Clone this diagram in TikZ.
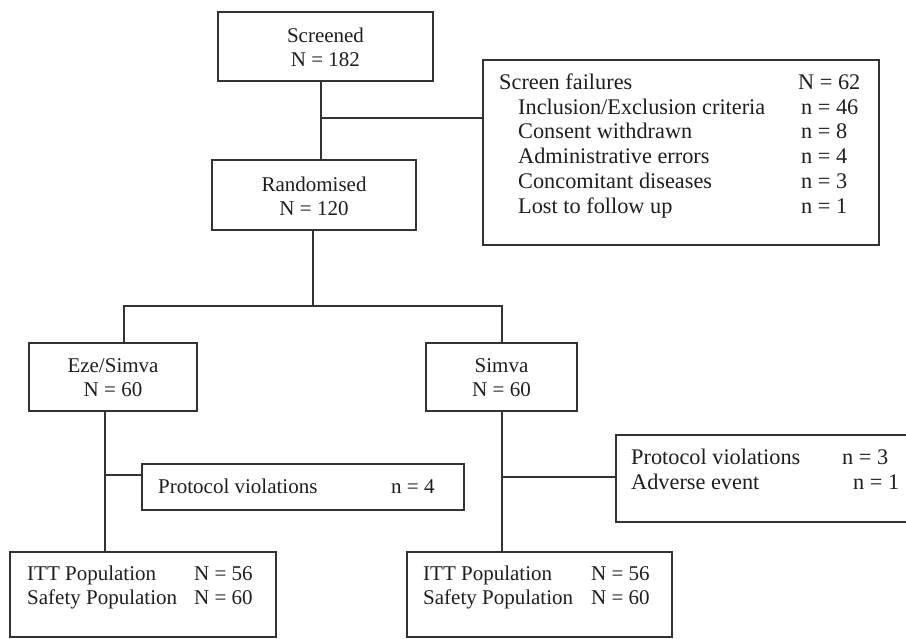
\documentclass[tikz,border=0pt]{standalone}
\usepackage{fontspec}
\setmainfont{Liberation Serif}
\definecolor{ln}{HTML}{333333}
\definecolor{tx}{HTML}{1E1E1E}
\begin{document}
\begin{tikzpicture}[x=1pt,y=-1pt,
  box/.style={draw=ln, line width=1.2pt, rectangle, inner sep=0pt},
  lbl/.style={inner sep=0pt, anchor=base west, text=tx, font=\fontsize{21}{25}\selectfont},
  ctr/.style={inner sep=0pt, align=center, text=tx, font=\fontsize{21}{24}\selectfont},
  wide/.style={inner sep=0pt, anchor=base west, text=tx, font=\fontsize{22.3}{25}\selectfont},
  conn/.style={draw=ln, line width=1.2pt}]
\useasboundingbox (0,0) rectangle (906,638);
\fill[white] (0,0) rectangle (906,638);

% boxes
\node[box, minimum width=215, minimum height=69] (scr) at (325.5,46.5) {};
\node[ctr] (scrT) at (325.5,47.5) {Screened\\N = 182};
\node[box, minimum width=204, minimum height=70] (rand) at (314,195) {};
\node[ctr] (randT) at (314,196) {Randomised\\N = 120};
\node[box, minimum width=396, minimum height=185] (sf) at (681,152.5) {};
\node[box, minimum width=168, minimum height=68] (eze) at (113,377) {};
\node[ctr] (ezeT) at (113,378) {Eze/Simva\\N = 60};
\node[box, minimum width=151, minimum height=68] (sim) at (501.5,377) {};
\node[ctr] (simT) at (501.5,378) {Simva\\N = 60};
\node[box, minimum width=322, minimum height=46] (pvL) at (303,487) {};
\node[box, minimum width=300, minimum height=87] (pvR) at (766,478.5) {};
\node[box, minimum width=266, minimum height=85] (ittL) at (143,594.5) {};
\node[box, minimum width=265, minimum height=85] (ittR) at (539.5,594.5) {};

% screen failures text
\node[wide] (s0) at (499,89) {Screen failures};
\node[wide] (s0n) at (798,89) {N = 62};
\node[wide] (s1) at (518,114) {Inclusion/Exclusion criteria};
\node[wide] (s1n) at (801,114) {n = 46};
\node[wide] (s2) at (518,138) {Consent withdrawn};
\node[wide] (s2n) at (801,138) {n = 8};
\node[wide] (s3) at (518,163) {Administrative errors};
\node[wide] (s3n) at (801,163) {n = 4};
\node[wide] (s4) at (518,188) {Concomitant diseases};
\node[wide] (s4n) at (801,188) {n = 3};
\node[wide] (s5) at (518,213) {Lost to follow up};
\node[wide] (s5n) at (801,213) {n = 1};

% protocol violations
\node[lbl] (pl1) at (158,493) {Protocol violations};
\node[lbl] (pl1n) at (391,493) {n = 4};
\node[wide] (pr1) at (631,464) {Protocol violations};
\node[wide] (pr1n) at (842,464) {n = 3};
\node[wide] (pr2) at (631,489) {Adverse event};
\node[wide] (pr2n) at (853,489) {n = 1};

% populations
\node[lbl] (il1) at (27,580) {ITT Population};
\node[lbl] (il1n) at (194,580) {N = 56};
\node[lbl] (il2) at (27,604) {Safety Population};
\node[lbl] (il2n) at (194,604) {N = 60};
\node[lbl] (ir1) at (423,580) {ITT Population};
\node[lbl] (ir1n) at (591,580) {N = 56};
\node[lbl] (ir2) at (423,604) {Safety Population};
\node[lbl] (ir2n) at (591,604) {N = 60};

% connectors
\coordinate (j1) at (321,118);
\coordinate (j2) at (313,306);
\coordinate (j3) at (124,306);
\coordinate (j4) at (502,306);
\coordinate (j5) at (105,475);
\coordinate (j6) at (502,477);
\draw[conn] (scr.south -| j1) -- (rand.north -| j1);
\draw[conn] (j1) -- (sf.west |- j1);
\draw[conn] (rand.south -| j2) -- (j2);
\draw[conn] (eze.north -| j3) -- (j3) -- (j4) -- (sim.north -| j4);
\draw[conn] (eze.south -| j5) -- (ittL.north -| j5);
\draw[conn] (j5) -- (pvL.west |- j5);
\draw[conn] (sim.south -| j6) -- (ittR.north -| j6);
\draw[conn] (j6) -- (pvR.west |- j6);
\end{tikzpicture}
\end{document}
